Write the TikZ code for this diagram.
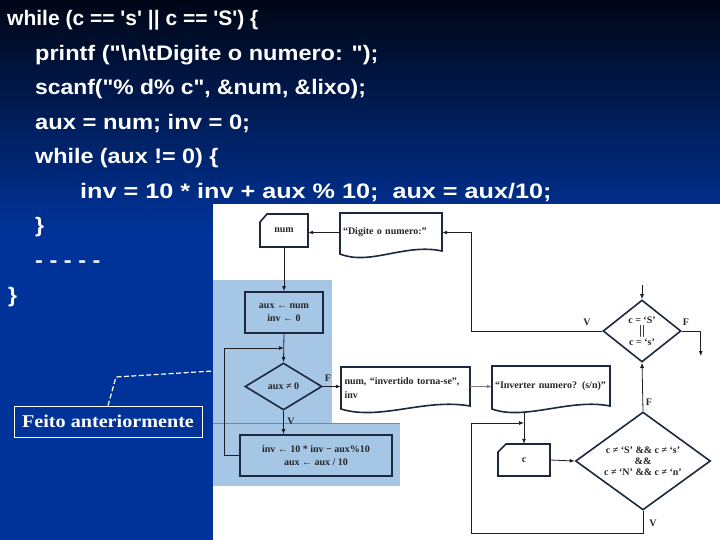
\documentclass[tikz,border=0pt]{standalone}
\usepackage{fontspec}
\usepackage{graphicx}
\usetikzlibrary{arrows.meta,shapes.geometric}
\newfontfamily\codefont[Ligatures=TeXOff]{Liberation Sans}
\newfontfamily\fcfont{Liberation Serif}
\definecolor{bgtop}{RGB}{0,6,22}
\definecolor{bgblue}{RGB}{0,51,153}
\definecolor{hl}{RGB}{166,198,230}
\definecolor{hlline}{RGB}{90,140,200}
\definecolor{ln}{RGB}{30,30,36}
\definecolor{bx}{RGB}{28,40,62}
\begin{document}
\begin{tikzpicture}[x=1pt,y=-1pt,
  fc/.style={font=\fcfont\bfseries\fontsize{10}{13}\selectfont, text=black!85, inner sep=0pt, align=center},
  sh/.style={draw=bx, line width=1.6pt},
  cn/.style={draw=ln, line width=0.8pt},
  arr/.style={cn, -{Latex[length=5pt,width=4pt]}},
  code/.style={text=white, font=\codefont\bfseries\fontsize{21}{24}\selectfont, inner sep=0pt, anchor=base west}]
\useasboundingbox (0,0) rectangle (720,540);
% background
\shade[top color=bgtop, bottom color=bgblue] (0,0) rectangle (720,230);
\fill[bgblue] (0,229) rectangle (720,540);
% code
\node[code] (l1) at (7,26) {\scalebox{1.0}[1]{while (c == 's' \textbar\textbar\ c == 'S') \{}};
\node[code] (l2) at (35,60.5) {\scalebox{1.12}[1]{printf ("\textbackslash n\textbackslash tDigite o numero: ");}};
\node[code] (l3) at (35,95) {\scalebox{1.09}[1]{scanf("\% d\% c", \&num, \&lixo);}};
\node[code] (l4) at (35,129.5) {\scalebox{1.13}[1]{aux = num; inv = 0;}};
\node[code] (l5) at (35,164) {\scalebox{1.11}[1]{while (aux != 0) \{}};
\node[code] (l6) at (80,198.5) {\scalebox{1.2}[1]{inv = 10 * inv + aux \% 10;\ \ aux = aux/10;}};
\node[code] (l7) at (35,233) {\scalebox{1.1}[1]{\}}};
\node[code] (l8) at (35,267.5) {\scalebox{1.12}[1]{- - - - -}};
\node[code] (l9) at (8,302) {\scalebox{1.1}[1]{\}}};
% picture area
\fill[white] (213,204) rectangle (720,540);
\fill[hl] (213,280) rectangle (332,423);
\fill[hl] (213,423) rectangle (400,486);
\draw[hlline, line width=0.6pt] (213,423) -- (400,423);
% shapes
\draw[sh, fill=white] (260,222) -- (267,214) -- (308,214) -- (308,247) -- (260,247) -- cycle;
\node[fc, minimum width=48, minimum height=33] (num) at (284,230.5) {num};
\draw[sh, fill=white] (340,213) -- (442,213) -- (442,251) .. controls (405,243) and (370,266) .. (340,254) -- cycle;
\node[fc, minimum width=102, minimum height=39, text width=96, align=left] (dig) at (391,232.5) {“Digite o numero:”};
\node[fc, sh, minimum width=78, minimum height=41] (ra) at (284,312.5) {aux ← num\\inv ← 0};
\node[fc, sh, shape=diamond, aspect=1.64, minimum width=77, minimum height=47] (da) at (283.5,386.5) {aux ≠ 0};
\node[fc, sh, minimum width=152, minimum height=41] (ri) at (316,455.5) {inv ← 10 * inv − aux\%10\\aux ← aux / 10};
\draw[sh, fill=white] (341,367) -- (470,367) -- (470,406) .. controls (425,398) and (380,421) .. (341,409) -- cycle;
\node[fc, minimum width=129, minimum height=39, text width=122, align=left, font=\fcfont\bfseries\fontsize{10}{14}\selectfont] (res) at (405.5,388) {num, “invertido torna-se”,\\inv};
\draw[sh, fill=white] (492,366) -- (610,366) -- (610,406) .. controls (570,398) and (525,421) .. (492,409) -- cycle;
\node[fc, minimum width=118, minimum height=40, text width=112, align=left] (invq) at (551,386) {“Inverter numero? (s/n)”};
\draw[sh, fill=white] (498,452) -- (506,444) -- (550,444) -- (550,476) -- (498,476) -- cycle;
\node[fc, minimum width=52, minimum height=32] (c) at (524,460) {c};
\node[fc, sh, shape=diamond, aspect=1.26, minimum width=78, minimum height=62, fill=white] (d1) at (642,331) {c = ‘S’\\[-2pt]{\fontsize{13}{12}\selectfont\textbar\textbar}\\[-2pt]c = ‘s’};
\node[fc, sh, shape=diamond, aspect=1.38, minimum width=135, minimum height=98, fill=white] (d2) at (643,461) {c ≠ ‘S’ \&\& c ≠ ‘s’\\[-2pt]\&\&\\[-2pt]c ≠ ‘N’ \&\& c ≠ ‘n’};
% labels
\node[fc] (lv1) at (587,322) {V};
\node[fc] (lf1) at (686,322) {F};
\node[fc] (lf2) at (649,402) {F};
\node[fc] (lv2) at (653,523) {V};
\node[fc] (lf3) at (328,378) {F};
\node[fc] (lv3) at (291,421) {V};
% coordinates
\coordinate (top1) at (642,285);
\coordinate (lx) at (471,331);
\coordinate (vb) at (643,533);
\coordinate (lb) at (471,533);
\coordinate (lt) at (471,423);
\coordinate (jn) at (524,423);
\coordinate (invqb) at (524,412);
\coordinate (lj) at (284,348);
% connectors
\draw[arr] (dig.west) -- (dig.west -| num.east);
\draw[arr] (d1.west) -- (lx) |- (dig.east);
\draw[arr] (top1) -- (d1.north);
\draw[arr] (d1.east) -- ++(19,0) -- ++(0,25);
\draw[arr] (d2.north) -- (d1.south);
\draw[arr] (d2.south) -- (vb) -- (lb) -- (lt) -- (jn);
\draw[arr] (invqb) -- (c.north);
\draw[arr] (c.east) -- (d2.west);
\draw[arr, draw=gray] (res.east |- da.east) -- (res.east |- da.east -| invq.west);
\draw[arr] (da.east) -- (da.east -| res.west);
\draw[arr] (num.south) -- (ra.north);
\draw[arr] (ra.south) -- (da.north);
\draw[arr] (da.south) -- (da.south |- ri.north);
\draw[arr] (ri.west) -- ++(-15,0) |- (lj);
% annotation
\node[draw=white, line width=0.8pt, text=white, font=\fcfont\bfseries\fontsize{18}{20}\selectfont, minimum width=188, minimum height=31, inner sep=0pt] (feito) at (108,421.5) {\scalebox{1.12}[1]{Feito anteriormente}};
\coordinate (dtop) at (116,377);
\coordinate (dend) at (213,371);
\draw[white, line width=1.2pt, dash pattern=on 5pt off 2.5pt] (feito.north) -- (dtop) -- (dend);
\end{tikzpicture}
\end{document}
